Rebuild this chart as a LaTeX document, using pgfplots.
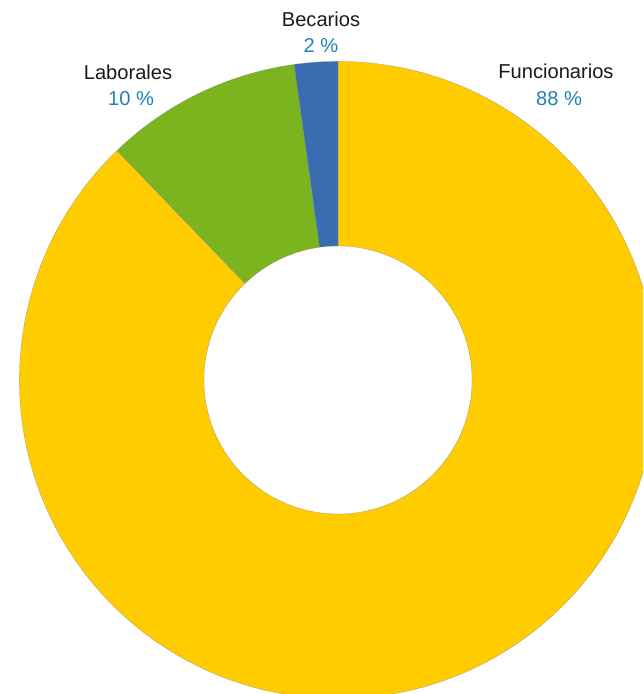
\documentclass[border=0pt]{standalone}
\usepackage{pgfplots}
\pgfplotsset{compat=1.18}
\usepackage{fontspec}
\setmainfont{Liberation Sans}

\definecolor{funcYellow}{HTML}{FFCC00}
\definecolor{labGreen}{HTML}{7AB51F}
\definecolor{becBlue}{HTML}{3A6DB0}
\definecolor{pctBlue}{HTML}{1F83B4}
\definecolor{nameGray}{HTML}{1A1A1A}

% shares in percent (labels show them rounded)
\def\vFunc{87.8}
\def\vLab{10.0}
\def\vBec{2.2}

% ring radii (1 unit = 0.025cm)
\def\Rout{7.9625cm}
\def\Rin{3.35cm}

% angles, clockwise from 12 o'clock
\pgfmathsetmacro{\aA}{90}
\pgfmathsetmacro{\aB}{\aA-3.6*\vFunc}
\pgfmathsetmacro{\aC}{\aB-3.6*\vLab}
\pgfmathsetmacro{\aD}{\aC-3.6*\vBec}

\newcommand{\slice}[3]{%
  \fill[#3, draw=black!45, line width=0.15pt]
    ([shift={(#1:\Rout)}]axis cs:338,314) arc[start angle=#1, end angle=#2, radius=\Rout]
    -- ([shift={(#2:\Rin)}]axis cs:338,314) arc[start angle=#2, end angle=#1, radius=\Rin]
    -- cycle;}

\begin{document}
\begin{tikzpicture}
\begin{axis}[
    x=0.025cm, y=0.025cm,
    xmin=0, xmax=643, ymin=0, ymax=694,
    hide axis,
    clip=true,
    scale only axis,
]
\addplot[draw=none] coordinates {(0,0) (643,694)};

\slice{\aA}{\aB}{funcYellow}
\slice{\aB}{\aC}{labGreen}
\slice{\aC}{\aD}{becBlue}

\begin{scope}[every node/.style={anchor=base, font=\fontsize{14.3}{17}\selectfont, inner sep=0pt}]
\node[text=nameGray] at (axis cs:556,615) {Funcionarios};
\node[text=pctBlue]  at (axis cs:559,588) {88 \%};
\node[text=nameGray] at (axis cs:128,614) {Laborales};
\node[text=pctBlue]  at (axis cs:131,588) {10 \%};
\node[text=nameGray] at (axis cs:321,667) {Becarios};
\node[text=pctBlue]  at (axis cs:321,641) {2 \%};
\end{scope}
\end{axis}
\end{tikzpicture}
\end{document}
